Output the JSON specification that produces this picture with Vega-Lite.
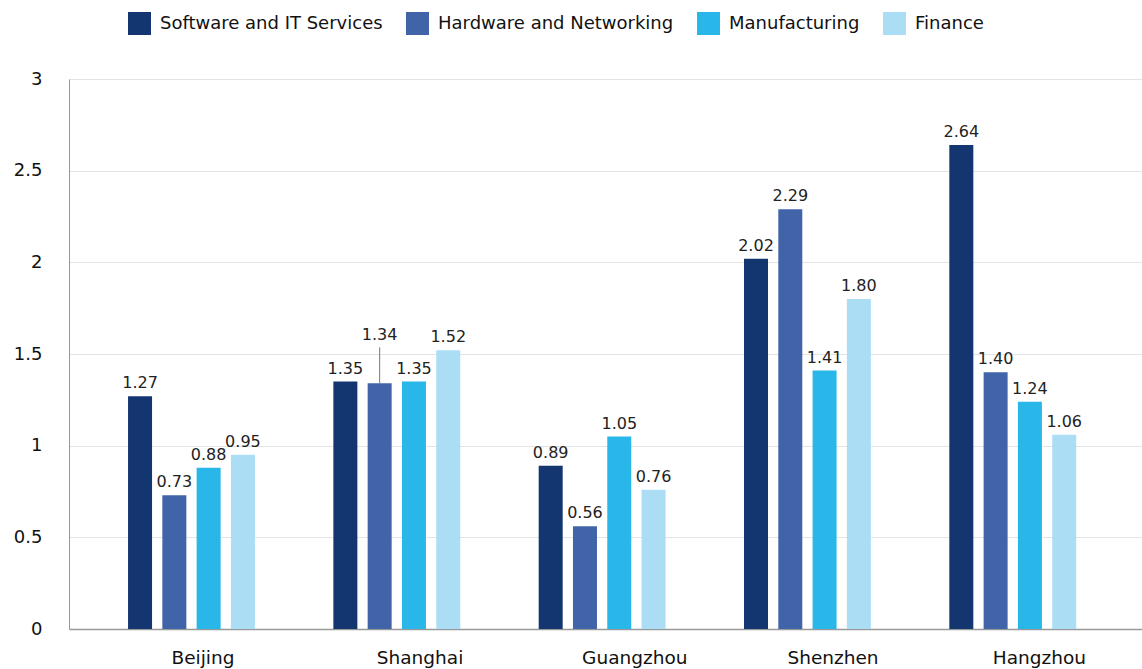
{
  "$schema": "https://vega.github.io/schema/vega-lite/v6.json",
  "width": 1073,
  "height": 550,
  "autosize": {"type": "none"},
  "padding": {"left": 69, "top": 79, "right": 0, "bottom": 40},
  "background": "white",
  "config": {
    "font": "DejaVu Sans",
    "view": {"stroke": null}
  },
  "data": {
    "values": [
      {"City": "Beijing", "Category": "Software and IT Services", "Value": 1.27},
      {"City": "Beijing", "Category": "Hardware and Networking", "Value": 0.73},
      {"City": "Beijing", "Category": "Manufacturing", "Value": 0.88},
      {"City": "Beijing", "Category": "Finance", "Value": 0.95},
      {"City": "Shanghai", "Category": "Software and IT Services", "Value": 1.35},
      {"City": "Shanghai", "Category": "Hardware and Networking", "Value": 1.34},
      {"City": "Shanghai", "Category": "Manufacturing", "Value": 1.35},
      {"City": "Shanghai", "Category": "Finance", "Value": 1.52},
      {"City": "Guangzhou", "Category": "Software and IT Services", "Value": 0.89},
      {"City": "Guangzhou", "Category": "Hardware and Networking", "Value": 0.56},
      {"City": "Guangzhou", "Category": "Manufacturing", "Value": 1.05},
      {"City": "Guangzhou", "Category": "Finance", "Value": 0.76},
      {"City": "Shenzhen", "Category": "Software and IT Services", "Value": 2.02},
      {"City": "Shenzhen", "Category": "Hardware and Networking", "Value": 2.29},
      {"City": "Shenzhen", "Category": "Manufacturing", "Value": 1.41},
      {"City": "Shenzhen", "Category": "Finance", "Value": 1.80},
      {"City": "Hangzhou", "Category": "Software and IT Services", "Value": 2.64},
      {"City": "Hangzhou", "Category": "Hardware and Networking", "Value": 1.40},
      {"City": "Hangzhou", "Category": "Manufacturing", "Value": 1.24},
      {"City": "Hangzhou", "Category": "Finance", "Value": 1.06}
    ]
  },
  "encoding": {
    "x": {
      "field": "City",
      "type": "nominal",
      "sort": ["Beijing", "Shanghai", "Guangzhou", "Shenzhen", "Hangzhou"],
      "scale": {"paddingInner": 0.048, "paddingOuter": 0.137, "align": 0.44},
      "axis": {
        "title": null,
        "labelAngle": 0,
        "ticks": false,
        "labelPadding": 19,
        "labelAlign": "left",
        "labelOffset": -20,
        "labelFontSize": 18.5,
        "labelColor": "#111111",
        "domainColor": "#999999",
        "domainWidth": 1.5,
        "grid": false
      }
    },
    "xOffset": {
      "field": "Category",
      "type": "nominal",
      "sort": ["Software and IT Services", "Hardware and Networking", "Manufacturing", "Finance"],
      "scale": {"paddingInner": 0.3, "paddingOuter": 1.0}
    },
    "y": {
      "field": "Value",
      "type": "quantitative",
      "scale": {"domain": [0, 3], "nice": false},
      "axis": {
        "title": null,
        "values": [0, 0.5, 1, 1.5, 2, 2.5, 3],
        "format": "~g",
        "ticks": false,
        "labelPadding": 27,
        "labelFontSize": 18,
        "labelColor": "#111111",
        "domainColor": "#999999",
        "domainWidth": 1,
        "gridColor": "#e3e3e3",
        "gridWidth": 1
      }
    }
  },
  "layer": [
    {
      "mark": {"type": "bar"},
      "encoding": {
        "color": {
          "field": "Category",
          "type": "nominal",
          "sort": ["Software and IT Services", "Hardware and Networking", "Manufacturing", "Finance"],
          "scale": {
            "domain": ["Software and IT Services", "Hardware and Networking", "Manufacturing", "Finance"],
            "range": ["#133670", "#4164A8", "#29B7E9", "#ABDEF5"]
          },
          "legend": {
            "title": null,
            "orient": "none",
            "legendX": 59,
            "legendY": -67,
            "direction": "horizontal",
            "symbolType": "square",
            "symbolSize": 529,
            "symbolStrokeWidth": 0,
            "labelFontSize": 18,
            "labelLimit": 500,
            "labelColor": "#111111",
            "labelOffset": 9,
            "columnPadding": 23
          }
        }
      }
    },
    {
      "transform": [{"filter": "!(datum.City == 'Shanghai' && datum.Category == 'Hardware and Networking')"}],
      "mark": {"type": "text", "dy": -8, "baseline": "alphabetic", "fontSize": 16, "color": "#222222"},
      "encoding": {"text": {"field": "Value", "type": "quantitative", "format": ".2f"}}
    },
    {
      "transform": [{"filter": "datum.City == 'Shanghai' && datum.Category == 'Hardware and Networking'"}],
      "mark": {"type": "text", "dy": -43, "baseline": "alphabetic", "fontSize": 16, "color": "#222222"},
      "encoding": {"text": {"field": "Value", "type": "quantitative", "format": ".2f"}}
    },
    {
      "transform": [{"filter": "datum.City == 'Shanghai' && datum.Category == 'Hardware and Networking'"}],
      "mark": {"type": "rule", "color": "#777777", "strokeWidth": 1, "y2Offset": -36},
      "encoding": {"y2": {"field": "Value"}}
    }
  ]
}
